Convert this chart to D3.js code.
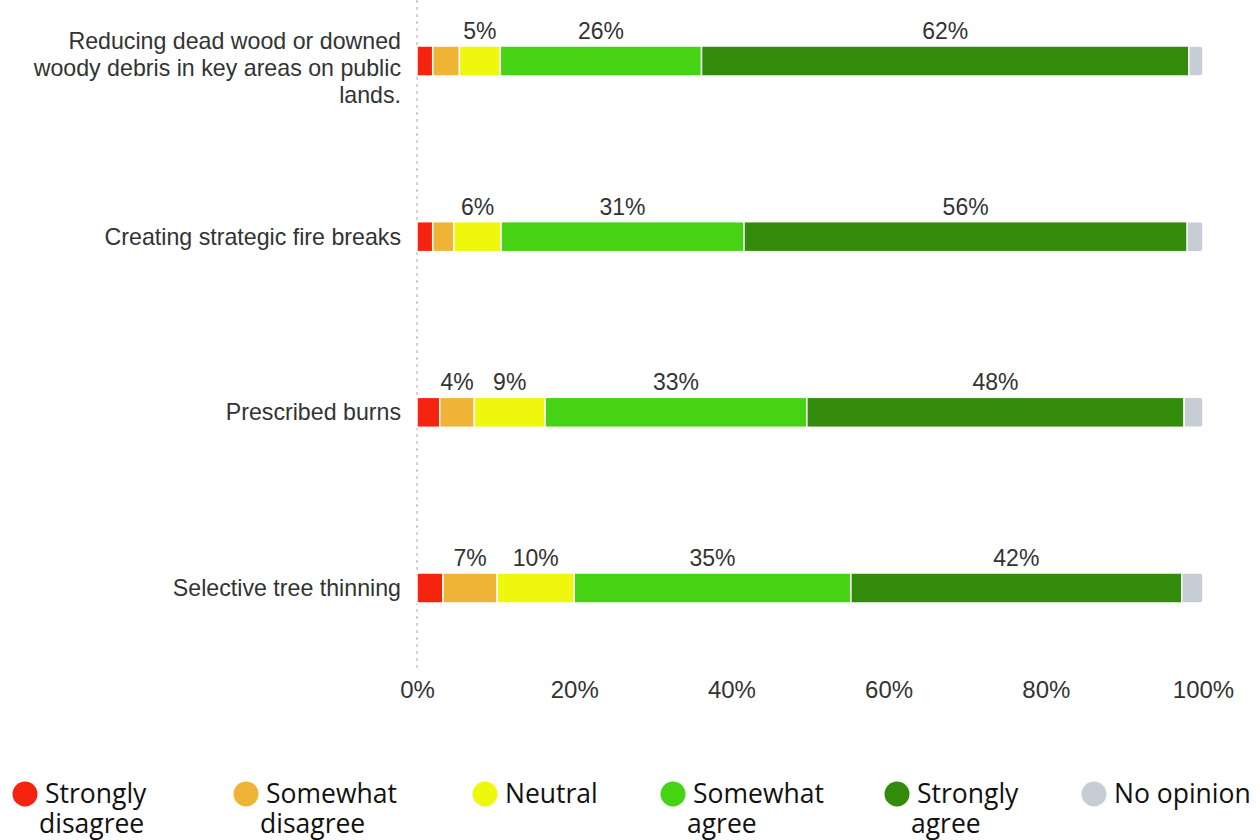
<!DOCTYPE html>
<html>
<head>
<meta charset="utf-8">
<script src="https://cdn.jsdelivr.net/npm/d3@7"></script>
<style>
  html, body { margin: 0; padding: 0; background: #fff; }
  svg { display: block; }
</style>
</head>
<body>
<svg id="chart" width="1260" height="840"></svg>
<script>
// Survey statements (top to bottom)
const categories = [
  ["Reducing dead wood or downed", "woody debris in key areas on public", "lands."],
  ["Creating strategic fire breaks"],
  ["Prescribed burns"],
  ["Selective tree thinning"]
];
const categoryNames = categories.map(c => c.join(" "));

// Response options
const responses = ["Strongly disagree", "Somewhat disagree", "Neutral", "Somewhat agree", "Strongly agree", "No opinion"];

// Share of respondents (%) per statement
const stronglyDisagree = [2.0, 2.0, 2.9, 3.3];
const somewhatDisagree = [3.4, 2.7, 4.4, 6.9];
const neutral          = [5.2, 6.0, 9.0, 9.8];
const somewhatAgree    = [25.6, 30.9, 33.3, 35.2];
const stronglyAgree    = [62.0, 56.4, 48.0, 42.1];
const noOpinion        = [1.8, 2.0, 2.4, 2.7];

const tickValues = [0, 20, 40, 60, 80, 100];

const colors = ["#f4240f", "#efb436", "#eef70c", "#45d314", "#338b0c", "#c6cdd4"];

const series = [stronglyDisagree, somewhatDisagree, neutral, somewhatAgree, stronglyAgree, noOpinion];
const rows = categoryNames.map((name, i) => {
  const r = { name };
  responses.forEach((k, j) => { r[k] = series[j][i]; });
  return r;
});

const svg = d3.select("#chart");
const x = d3.scaleLinear().domain([0, 100]).range([417, 1203]);
const y = d3.scalePoint().domain(categoryNames).range([61, 588]);
const barH = 30;
const color = d3.scaleOrdinal().domain(responses).range(colors);
const sans = "'Liberation Sans', Arial, sans-serif";

// dotted baseline at 0%
svg.append("line")
  .attr("x1", x(0)).attr("x2", x(0))
  .attr("y1", 0).attr("y2", 668)
  .attr("stroke", "#d4d4d4").attr("stroke-width", 2)
  .attr("stroke-dasharray", "3,4");

const stacked = d3.stack().keys(responses)(rows);

const layers = svg.append("g").selectAll("g")
  .data(stacked).join("g")
  .attr("fill", d => color(d.key));

layers.each(function(layer) {
  const g = d3.select(this);
  const last = layer.key === responses[responses.length - 1];
  layer.forEach(seg => {
    const x0 = x(seg[0]), x1 = x(seg[1]);
    const top = y(seg.data.name) - barH / 2;
    if (last) {
      // closing segment has rounded right corners
      const r = 3;
      const p = d3.path();
      p.moveTo(x0, top);
      p.lineTo(x1 - r, top);
      p.arcTo(x1, top, x1, top + r, r);
      p.lineTo(x1, top + barH - r);
      p.arcTo(x1, top + barH, x1 - r, top + barH, r);
      p.lineTo(x0, top + barH);
      p.closePath();
      g.append("path").attr("d", p.toString())
        .attr("stroke", "#fff").attr("stroke-width", 1.5);
    } else {
      g.append("rect")
        .attr("x", x0).attr("y", top)
        .attr("width", x1 - x0).attr("height", barH)
        .attr("stroke", "#fff").attr("stroke-width", 1.5);
    }
  });
});

// value labels above segments of 4% or more
const labels = svg.append("g")
  .attr("font-family", sans)
  .attr("font-size", 23).attr("fill", "#333").attr("text-anchor", "middle");
stacked.forEach(layer => {
  layer.forEach(seg => {
    const v = seg[1] - seg[0];
    if (Math.round(v) >= 4) {
      labels.append("text")
        .attr("x", (x(seg[0]) + x(seg[1])) / 2)
        .attr("y", y(seg.data.name) - barH / 2 - 7)
        .text(Math.round(v) + "%");
    }
  });
});

// category labels
const catG = svg.append("g")
  .attr("font-family", sans)
  .attr("font-size", 23.2).attr("fill", "#333").attr("text-anchor", "end");
categories.forEach((lines, i) => {
  const cy = y(categoryNames[i]);
  const lh = 27;
  const first = cy + 8 - (lines.length - 1) / 2 * lh + (lines.length > 1 ? 7 : 0);
  const t = catG.append("text");
  lines.forEach((ln, k) => {
    t.append("tspan").attr("x", 401).attr("y", first + k * lh).text(ln);
  });
});

// x axis
const axis = d3.axisBottom(x).tickValues(tickValues).tickFormat(d => d + "%").tickSize(0).tickPadding(0);
const ax = svg.append("g").attr("transform", "translate(0,681)").call(axis);
ax.select(".domain").remove();
ax.selectAll("text")
  .attr("font-family", sans)
  .attr("font-size", 24).attr("fill", "#333");

// legend
const legendX = [25, 246, 485, 673, 897, 1094];
const legend = svg.append("g")
  .attr("font-family", "'Open Sans', sans-serif")
  .attr("font-size", 26.5).attr("fill", "#111");
const maxW = 145;
responses.forEach((name, i) => {
  const g = legend.append("g").attr("transform", `translate(${legendX[i]},794)`);
  g.append("circle").attr("r", 12.5).attr("fill", colors[i]);
  const t = g.append("text").attr("x", 20).attr("y", 9);
  const words = name.split(" ");
  let line = [];
  let lines = [];
  const probe = t.append("tspan");
  words.forEach(w => {
    const tryLine = line.concat([w]).join(" ");
    probe.text(tryLine);
    if (probe.node().getComputedTextLength() > maxW && line.length) {
      lines.push(line.join(" "));
      line = [w];
    } else {
      line.push(w);
    }
  });
  lines.push(line.join(" "));
  probe.remove();
  lines.forEach((ln, k) => {
    t.append("tspan").attr("x", k === 0 ? 20 : 14).attr("y", 9 + k * 30).text(ln);
  });
});
</script>
</body>
</html>
